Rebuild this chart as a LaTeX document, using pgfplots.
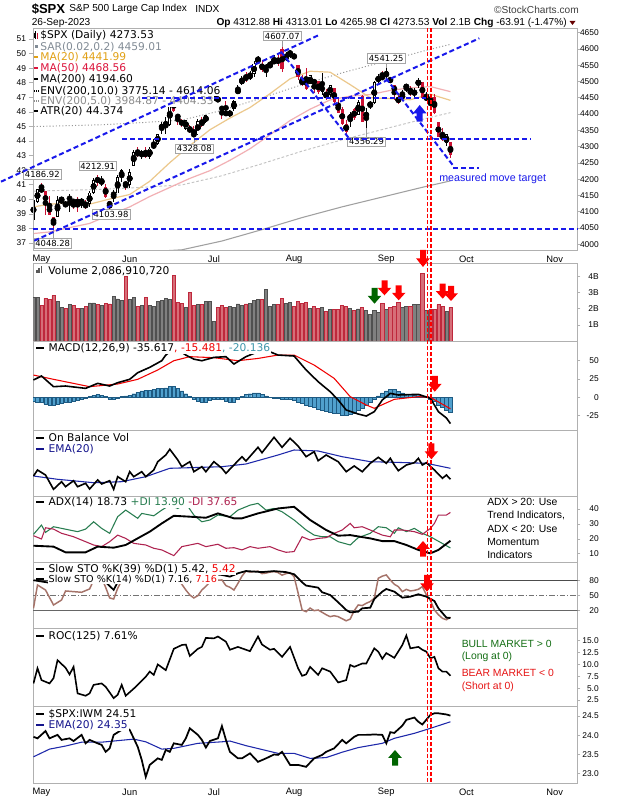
\documentclass[border=0pt]{standalone}
\usepackage{pgfplots}
\pgfplotsset{compat=1.18}
\usepackage{pgfplotstable}
\usepackage{fontspec}
\setmainfont{Liberation Sans}
\newfontfamily\lgf{DejaVu Sans}
\newcommand\LG{\lgf\fontsize{8}{9}\selectfont}
\newcommand\LGs{\lgf\fontsize{7.2}{8}\selectfont}
\newcommand\TK{\fontsize{6.3}{7}\selectfont}
\newcommand\MK{\fontsize{7}{8}\selectfont}
\newcommand\PL{\lgf\fontsize{6.3}{7}\selectfont}
\newcommand\NT{\fontsize{7.8}{9}\selectfont}

\definecolor{bord}{RGB}{176,176,176}
\definecolor{cred}{RGB}{204,17,51}
\definecolor{ma20c}{RGB}{236,200,140}
\definecolor{ma50c}{RGB}{242,176,180}
\definecolor{ma200c}{RGB}{160,160,160}
\definecolor{envc}{RGB}{150,150,150}
\definecolor{env5c}{RGB}{195,195,195}
\definecolor{annb}{RGB}{25,25,235}
\definecolor{volg}{RGB}{128,128,128}
\definecolor{volge}{RGB}{80,80,80}
\definecolor{volr}{RGB}{214,110,120}
\definecolor{volre}{RGB}{190,40,60}
\definecolor{histc}{RGB}{80,160,205}
\definecolor{histe}{RGB}{30,90,130}
\definecolor{sigc}{RGB}{240,0,0}
\definecolor{navyc}{RGB}{20,20,140}
\definecolor{pdi}{RGB}{40,125,80}
\definecolor{mdi}{RGB}{175,35,80}
\definecolor{stob}{RGB}{165,115,105}
\definecolor{bullg}{RGB}{20,110,20}
\definecolor{beard}{RGB}{230,20,20}
\definecolor{emac}{RGB}{30,40,170}
\definecolor{tealc}{RGB}{60,150,170}
\definecolor{ma20t}{RGB}{225,160,20}
\definecolor{ma50t}{RGB}{220,20,60}
\definecolor{sarg}{RGB}{130,140,150}
\definecolor{arrg}{RGB}{0,100,0}

\pgfplotsset{
  pan/.style={
    scale only axis, width=408.4pt, anchor=south west,
    xmin=-2.12, xmax=133.7,
    axis line style={draw=bord, line width=0.6pt},
    xtick=\empty,
    ytick pos=right, yticklabel pos=right,
    tick align=outside, major tick length=2.2pt,
    ytick style={draw=bord, line width=0.5pt},
    xtick style={draw=none},
    yticklabel style={font=\TK, anchor=east, inner sep=0pt, xshift=13.9pt},
    xticklabel style={font=\MK, anchor=center, inner sep=0pt, yshift=-5pt},
    clip=true,
  },
  cdl/.style 2 args={only marks, mark=none, error bars/.cd, y dir=both, y explicit, error mark=none,
    error bar style={draw=#1, line width=#2}},
}

\pgfplotstableread{
j o h l c r k v
-2 4075.29 4138.02 4075.29 4135.35 0 0 2.72
-1 4129.63 4170.06 4127.18 4169.48 0 0 2.72
0 4166.79 4186.92 4164.12 4167.87 1 2 2.20
1 4164.10 4164.10 4089.72 4119.58 1 3 2.65
2 4122.25 4148.30 4088.86 4090.75 1 3 2.57
3 4082.61 4082.61 4048.28 4061.22 1 3 2.82
4 4084.73 4147.02 4084.73 4136.25 0 0 2.45
5 4136.98 4142.30 4123.81 4138.12 0 0 2.10
6 4124.25 4130.35 4116.65 4119.17 1 3 2.04
7 4143.74 4154.28 4098.92 4137.64 0 1 2.26
8 4132.24 4132.80 4109.29 4130.62 1 3 2.20
9 4138.54 4143.74 4099.12 4124.08 1 3 2.04
10 4126.65 4141.25 4110.27 4136.28 0 0 2.00
11 4127.95 4135.54 4109.86 4109.90 1 3 2.16
12 4122.85 4164.67 4113.62 4158.77 0 0 2.37
13 4157.68 4202.20 4153.50 4198.05 0 0 2.37
14 4204.15 4212.91 4180.20 4191.98 1 3 2.26
15 4190.78 4209.22 4179.68 4192.63 0 0 2.20
16 4176.80 4185.68 4142.54 4145.58 1 3 2.35
17 4132.96 4132.96 4103.98 4115.24 1 3 2.30
18 4155.71 4165.74 4129.73 4151.28 0 1 2.78
19 4156.16 4212.87 4156.16 4205.45 0 0 2.61
20 4226.71 4231.10 4192.18 4205.52 0 1 2.51
21 4190.74 4195.44 4166.15 4179.83 1 3 4.00
22 4183.03 4232.43 4171.64 4221.02 0 0 2.57
23 4241.01 4290.67 4241.01 4282.37 0 0 2.72
24 4282.99 4299.28 4266.82 4273.79 1 3 2.16
25 4271.34 4288.33 4263.09 4283.85 0 0 2.20
26 4285.47 4299.19 4263.96 4267.52 1 3 2.72
27 4268.69 4298.01 4261.07 4293.93 0 0 2.20
28 4304.88 4322.62 4291.70 4298.86 0 1 2.14
29 4308.32 4340.13 4304.37 4338.93 0 0 2.45
30 4352.61 4375.37 4337.85 4369.01 0 0 2.51
31 4366.29 4391.82 4337.85 4372.59 0 0 2.65
32 4365.33 4439.20 4362.60 4425.84 0 0 2.57
33 4440.95 4448.47 4407.44 4409.59 1 3 4.10
34 4396.11 4400.15 4367.19 4388.71 1 3 2.41
35 4380.01 4386.22 4360.14 4365.69 1 3 2.35
36 4355.40 4382.25 4351.82 4381.89 0 0 2.10
37 4354.17 4366.55 4341.34 4348.33 1 3 3.03
38 4344.84 4362.06 4328.08 4328.82 1 3 2.20
39 4337.36 4384.42 4335.00 4378.41 0 0 2.26
40 4367.48 4390.35 4360.22 4376.86 1 2 2.26
41 4374.94 4398.39 4371.97 4396.44 0 0 2.45
42 4422.44 4458.48 4422.44 4450.38 0 0 2.45
43 4450.48 4456.46 4442.29 4455.59 0 0 1.21
44 4442.04 4454.06 4436.61 4446.82 1 2 2.10
45 4422.62 4422.62 4385.05 4411.59 1 3 2.20
46 4404.54 4440.39 4397.40 4398.95 1 3 2.10
47 4394.23 4412.60 4389.92 4409.53 0 0 2.16
48 4415.55 4443.64 4408.46 4439.26 0 0 2.10
49 4467.69 4488.34 4463.23 4472.16 0 0 2.30
50 4491.50 4517.38 4489.36 4510.04 0 0 2.20
51 4514.61 4527.76 4499.56 4505.42 1 3 2.30
52 4508.86 4532.85 4504.90 4522.79 0 0 2.35
53 4521.78 4562.30 4514.59 4554.98 0 0 2.51
54 4563.87 4578.43 4557.48 4565.72 0 0 2.57
55 4554.38 4564.74 4527.56 4534.87 1 3 2.57
56 4550.16 4555.00 4514.02 4536.34 0 1 3.19
57 4543.39 4563.41 4541.29 4554.64 0 0 2.16
58 4555.19 4580.62 4552.42 4567.46 0 0 2.26
59 4558.96 4582.47 4547.58 4566.75 1 2 2.26
60 4598.26 4607.07 4528.56 4537.41 1 3 2.65
61 4565.75 4590.16 4564.01 4582.23 0 0 2.33
62 4584.82 4594.22 4573.14 4588.96 0 0 2.39
63 4578.83 4584.62 4567.53 4576.73 1 3 2.16
64 4550.93 4550.93 4505.75 4513.39 1 3 2.45
65 4494.27 4519.49 4485.54 4501.89 1 2 2.33
66 4513.96 4540.34 4474.55 4478.03 1 3 2.39
67 4491.58 4519.84 4491.15 4518.44 0 0 2.04
68 4498.03 4503.31 4464.39 4499.38 1 2 2.16
69 4501.57 4502.44 4461.33 4467.71 1 3 2.04
70 4487.16 4527.37 4457.92 4468.83 0 1 2.08
71 4450.69 4476.23 4443.98 4464.05 1 2 1.83
72 4458.13 4490.33 4453.44 4489.72 0 0 1.95
73 4478.87 4478.87 4432.19 4437.86 1 3 1.95
74 4433.79 4449.95 4403.55 4404.33 1 3 1.95
75 4416.32 4421.17 4364.83 4370.36 1 3 2.20
76 4344.88 4381.82 4335.31 4369.71 1 2 2.16
77 4380.28 4407.55 4360.30 4399.77 0 0 2.04
78 4415.33 4418.59 4382.77 4387.55 1 3 1.89
79 4396.44 4443.18 4396.44 4436.01 0 0 1.99
80 4455.16 4458.30 4375.55 4376.31 1 3 2.10
81 4389.38 4418.46 4356.29 4405.71 0 0 1.89
82 4426.03 4439.56 4414.98 4433.31 0 0 1.67
83 4432.75 4500.14 4431.68 4497.63 0 0 1.89
84 4500.34 4521.65 4493.59 4514.87 0 0 1.79
85 4517.01 4532.26 4507.39 4507.66 1 3 2.35
86 4530.60 4541.25 4501.35 4515.77 0 1 1.95
87 4510.06 4514.29 4496.01 4496.83 1 3 2.10
88 4490.35 4490.35 4442.38 4465.48 1 3 2.16
89 4434.55 4457.81 4430.46 4451.14 1 2 2.39
90 4451.30 4473.53 4448.38 4457.49 0 0 2.08
91 4480.98 4490.77 4467.89 4487.46 0 0 2.14
92 4473.27 4487.11 4456.83 4461.90 1 3 2.14
93 4462.65 4479.39 4453.52 4467.44 0 0 2.26
94 4487.78 4511.99 4478.69 4505.10 0 0 2.26
95 4497.98 4497.98 4447.21 4450.32 1 3 4.20
96 4445.13 4466.36 4442.11 4453.53 0 0 1.89
97 4445.41 4449.85 4416.61 4443.95 1 3 1.99
98 4452.81 4461.03 4401.38 4402.20 1 3 1.95
99 4374.36 4375.70 4329.17 4330.00 1 3 2.26
100 4341.74 4357.40 4316.49 4320.06 1 3 2.14
101 4310.62 4338.51 4302.70 4337.44 0 0 1.83
102 4312.88 4313.01 4265.98 4273.53 1 3 2.09
}\tD

\pgfplotstableread{
j a b
-2 4114.9 4033.0
2 4123.0 4037.8
7 4127.4 4051.1
12 4123.2 4064.0
17 4138.9 4090.0
22 4152.9 4114.8
27 4193.4 4146.7
32 4250.7 4174.5
37 4303.2 4202.3
42 4351.6 4226.0
47 4387.6 4257.9
52 4419.9 4293.3
57 4462.5 4336.3
62 4508.1 4380.0
67 4531.4 4414.9
72 4528.4 4443.4
77 4490.2 4455.0
82 4450.0 4459.7
87 4447.2 4472.5
92 4443.9 4480.3
97 4460.8 4484.3
102 4442.0 4468.6
}\tMA

\pgfplotstableread{
j m e5 e10
-2 3965 4163.3 4361.5
5 3967 4165.4 4363.7
15 3970 4168.5 4367.0
25 3976 4174.8 4373.6
35 3983 4182.2 4381.3
45 4010 4210.5 4411.0
55 4045 4247.3 4449.5
65 4082 4286.1 4490.2
75 4115 4320.8 4526.5
85 4145 4352.3 4559.5
95 4175 4383.8 4592.5
102 4194.6 4404.3 4614.1
}\tML

\pgfplotstableread{
j h
-2 -5
-1 -6
0 -7
1 -9
2 -10
3 -10
4 -9
5 -8
6 -7
7 -6
8 -5
9 -4
10 -3
11 -1
12 1
13 3
14 4
15 3
16 1
17 -2
18 -3
19 -1
20 1
21 2
22 3
23 5
24 7
25 9
26 10
27 10
28 11
29 12
30 12
31 13
32 15
33 15
34 12
35 9
36 5
37 1
38 -3
39 -5
40 -6
41 -6
42 -4
43 -2
44 -2
45 -3
46 -5
47 -6
48 -6
49 -3
50 1
51 4
52 5
53 6
54 6
55 4
56 2
57 0
58 -1
59 -1
60 -2
61 -3
62 -3
63 -4
64 -6
65 -8
66 -10
67 -12
68 -14
69 -16
70 -17
71 -19
72 -20
73 -21
74 -22
75 -24
76 -24
77 -23
78 -21
79 -18
80 -15
81 -11
82 -7
83 -3
84 2
85 6
86 9
87 11
88 11
89 8
90 6
91 4
92 4
93 3
94 4
95 2
96 1
97 -2
98 -5
99 -10
100 -14
101 -17
102 -20.1
}\tH

\newcommand\downarr[4]{%
  \fill[#4] ({#1-3},{800-#2}) -- ({#1+3},{800-#2}) -- ({#1+3},{800-(#2+0.5*(#3-#2))}) -- ({#1+6.8},{800-(#2+0.5*(#3-#2))}) -- ({#1},{800-#3}) -- ({#1-6.8},{800-(#2+0.5*(#3-#2))}) -- ({#1-3},{800-(#2+0.5*(#3-#2))}) -- cycle;}
\newcommand\uparr[4]{%
  \fill[#4] ({#1-3},{800-#3}) -- ({#1+3},{800-#3}) -- ({#1+3},{800-(#3-0.5*(#3-#2))}) -- ({#1+6.8},{800-(#3-0.5*(#3-#2))}) -- ({#1},{800-#2}) -- ({#1-6.8},{800-(#3-0.5*(#3-#2))}) -- ({#1-3},{800-(#3-0.5*(#3-#2))}) -- cycle;}

\begin{document}
\begin{tikzpicture}
\begin{scope}[x=0.75pt,y=0.75pt]
\path[fill=white] (0,0) rectangle (620,800);
\end{scope}

% ---------------- MAIN PRICE PANEL
\begin{axis}[pan, at={(24pt,412.5pt)}, height=166.3pt, ymin=3982.5, ymax=4663.4,
  ytick={4000,4050,...,4650},
  yticklabels={4000,4050,4100,4150,4200,4250,4300,4350,4400,4450,4500,4550,4600,4650},
  xtick={0,22,43,63,86,106,128}, xticklabels={May,Jun,Jul,Aug,Sep,Oct,Nov}]
\addplot[ma200c, line width=0.8pt] table[x=j,y=m]{\tML};
\addplot[env5c, line width=0.7pt, dash pattern=on 2pt off 1.5pt] table[x=j,y=e5]{\tML};
\addplot[envc, line width=0.7pt, dash pattern=on 0.8pt off 1.6pt] table[x=j,y=e10]{\tML};
\addplot[ma50c, line width=0.9pt] table[x=j,y=b]{\tMA};
\addplot[ma20c, line width=0.9pt] table[x=j,y=a]{\tMA};
% wicks
\addplot[cdl={black}{0.7pt}] table[x=j, y expr={ifthenelse(\thisrow{r}==0,(\thisrow{h}+\thisrow{l})/2,-1000)}, y error expr={(\thisrow{h}-\thisrow{l})/2}]{\tD};
\addplot[cdl={cred}{0.7pt}] table[x=j, y expr={ifthenelse(\thisrow{r}==1,(\thisrow{h}+\thisrow{l})/2,-1000)}, y error expr={(\thisrow{h}-\thisrow{l})/2}]{\tD};
% bodies
\addplot[cdl={black}{2.4pt}] table[x=j, y expr={ifthenelse(\thisrow{r}==0,(\thisrow{o}+\thisrow{c})/2,-1000)}, y error expr={max(abs(\thisrow{o}-\thisrow{c})/2,1.3)}]{\tD};
\addplot[cdl={cred}{2.4pt}] table[x=j, y expr={ifthenelse(\thisrow{r}==1,(\thisrow{o}+\thisrow{c})/2,-1000)}, y error expr={max(abs(\thisrow{o}-\thisrow{c})/2,1.3)}]{\tD};
% hollow interiors
\addplot[cdl={white}{1.0pt}] table[x=j, y expr={ifthenelse(\thisrow{k}==0,(\thisrow{o}+\thisrow{c})/2,-1000)}, y error expr={max(abs(\thisrow{o}-\thisrow{c})/2-2.8,0)}]{\tD};
\addplot[cdl={white}{1.0pt}] table[x=j, y expr={ifthenelse(\thisrow{k}==2,(\thisrow{o}+\thisrow{c})/2,-1000)}, y error expr={max(abs(\thisrow{o}-\thisrow{c})/2-2.8,0)}]{\tD};
\end{axis}
\begin{axis}[scale only axis, width=408.4pt, height=166.3pt, at={(24pt,412.5pt)}, anchor=south west,
  xmin=-2.12, xmax=133.7, ymin=36.52, ymax=51.74, axis x line=none, axis y line*=left,
  axis line style={draw=bord, line width=0.6pt}, tick align=outside, major tick length=3pt,
  ytick style={draw=bord, line width=0.5pt},
  ytick={37,38,...,51}, yticklabels={37,38,39,40,41,42,43,44,45,46,47,48,49,50,51},
  yticklabel style={font=\TK, anchor=east, inner sep=0pt, xshift=-2pt}]
\addplot[draw=none] coordinates {(0,40)};
\end{axis}

% ---------------- VOLUME
\begin{axis}[pan, at={(24pt,344.25pt)}, height=58.3pt, ymin=0, ymax=4.83,
  ytick={1,2,3,4}, yticklabels={1B,2B,3B,4B}]
\addplot[ybar, bar width=0.78, bar shift=0pt, fill=volg, draw=volge, line width=0.5pt] table[x=j,y expr={ifthenelse(\thisrow{r}==0,\thisrow{v},-1)}]{\tD};
\addplot[ybar, bar width=0.78, bar shift=0pt, fill=volr, draw=volre, line width=0.5pt] table[x=j,y expr={ifthenelse(\thisrow{r}==1,\thisrow{v},-1)}]{\tD};
\end{axis}

% ---------------- MACD
\begin{axis}[pan, at={(24pt,277.5pt)}, height=66.75pt, ymin=-44.3, ymax=76.7,
  ytick={-25,0,25,50}, yticklabels={-25,0,25,50}]
\addplot[ybar, bar width=0.88, bar shift=0pt, fill=histc, draw=histe, line width=0.35pt] table[x=j,y=h]{\tH};
\addplot[sigc, line width=0.8pt] table[x=j,y=v]{
j v
-2 30.4
3 24.6
12 14.6
19 18.2
24 24.6
29 37.3
33 49.9
37 55.4
43 54
49 49.9
54 53
59 57.6
63 57.6
68 44.0
73 25.9
77 1.0
81 -10.3
83 -14.8
88 -2.6
94 1.0
97 0.1
102 -15.5
};
\addplot[black, line width=1.2pt] table[x=j,y=v]{
j v
-2 23.7
0 29.1
3 14.6
6 15.5
11 12.3
14 19.1
17 15.5
19 20.0
22 24.6
24 33.6
27 40.9
30 49.9
31 57.6
33 66
34 65
36 57.6
38 52
40 49.9
43 54.4
46 55.4
48 45.4
51 55.4
53 59.9
55 64
57 62
59 57.6
63 56.3
66 37.3
69 21.4
72 7.8
74 -3.5
76 -17.1
79 -22.6
81 -25.3
83 -19.4
85 -3.5
87 5.5
89 3.3
94 4.2
97 -1.3
99 -19.4
101 -28
102 -35.6
};
\end{axis}

% ---------------- OBV
\begin{axis}[pan, at={(24pt,228pt)}, height=49.5pt, ymin=0, ymax=66, ytick=\empty]
\addplot[emac, line width=0.8pt] table[x=j,y=v]{
j v
-2 20
4 16.7
13 13.3
20 14.3
26 19.3
32 27.7
37 28.3
45 29.3
51 32.0
59 41.0
63 46.0
69 45.0
75 39.3
82 34.3
88 33.7
96 32.7
102 27.7
};
\addplot[black, line width=1.2pt] table[x=j,y=v]{
j v
-2 20.0
-1 26.0
1 21.0
3 6.7
5 14.3
6 9.3
8 15.3
9 9.3
11 12.7
12 7.0
14 16.0
15 12.0
17 15.3
18 6.7
19 19.3
21 14.3
22 24.3
23 19.3
25 24.3
26 19.3
28 26.0
29 34.3
31 41.0
32 46.7
34 36.0
35 29.3
37 34.3
38 24.3
40 29.3
41 24.3
43 34.3
45 27.7
46 22.7
48 31.0
50 39.3
51 35.0
54 48.7
55 43.3
58 58.7
60 48.7
62 57.7
64 50.0
66 39.3
68 44.3
69 35.3
71 41.0
74 34.3
76 24.3
78 30.0
80 24.3
82 32.7
84 38.7
86 32.7
87 37.7
88 31.0
89 25.3
91 31.0
93 33.3
94 37.7
95 31.0
96 33.3
98 26.0
100 17.7
101 21.0
102 16.7
};
\end{axis}

% ---------------- ADX
\begin{axis}[pan, at={(24pt,177.975pt)}, height=50pt, ymin=4.07, ymax=48.6,
  ytick={10,20,30,40}, yticklabels={10,20,30,40}]
\addplot[pdi, line width=0.8pt] table[x=j,y=v]{
j v
-2 23.0
0 29.2
1 24.3
3 28.1
5 27.0
7 25.9
9 24.8
11 26.5
13 31.4
15 27.0
17 23.7
18 29.2
19 34.8
21 39.2
24 33.7
25 37.0
28 35.4
30 39.2
32 42.5
34 40.3
36 43.7
38 35.9
40 31.4
42 32.6
44 35.9
47 34.8
49 39.2
52 42.5
54 43.7
56 39.2
58 40.3
60 38.1
63 32.6
66 25.9
68 22.5
70 21.4
72 21.4
74 18.1
77 15.9
79 20.8
82 23.7
84 28.1
86 27.4
88 23.7
89 27.4
91 24.8
93 27.0
95 23.7
97 21.4
100 16.9
102 13.9
};
\addplot[mdi, line width=0.8pt] table[x=j,y=v]{
j v
-2 22.1
0 19.9
1 27.4
3 26.5
5 23.7
8 21.4
10 19.2
13 15.9
15 14.8
17 18.1
19 22.5
21 20.3
23 17.0
26 15.9
28 13.7
30 12.6
33 8.8
35 14.8
37 15.9
39 17.0
41 14.8
44 16.4
46 13.7
48 14.1
50 12.6
52 14.8
54 13.7
57 14.8
59 12.6
61 11.0
63 11.5
65 21.4
67 19.2
69 20.3
71 20.8
73 23.7
75 25.9
77 30.3
78 27.4
80 28.1
82 25.9
85 22.5
87 21.4
88 25.9
90 25.9
93 24.8
95 23.0
97 27.0
98 30.3
99 35.9
101 35.9
102 37.65
};
\addplot[black, line width=1.4pt] table[x=j,y=v]{
j v
-2 15.4
3 14.8
6 11.0
11 11.0
14 14.8
18 14.1
21 15.9
27 24.8
30 30.3
33 35.4
37 34.8
41 34.1
44 37.0
48 33.7
50 33.7
54 37.0
59 40.3
63 41.4
67 32.6
71 25.9
74 22.1
77 22.5
82 20.3
85 18.5
88 18.5
91 15.9
94 12.6
97 10.3
99 12.6
102 18.73
};
\end{axis}

% ---------------- STO
\begin{axis}[pan, at={(24pt,129pt)}, height=49pt, ymin=-14.2, ymax=114.6,
  ytick={20,50,80}, yticklabels={20,50,80}]
\addplot[black!70, line width=0.7pt] coordinates {(-3,80) (134,80)};
\addplot[black!55, line width=0.6pt, dash pattern=on 4pt off 1.5pt on 0.8pt off 1.5pt] coordinates {(-3,50) (134,50)};
\addplot[black!60, line width=0.7pt] coordinates {(-3,20) (134,20)};
\addplot[stob, line width=1.1pt] table[x=j,y=v]{
j v
-2 24.6
-1 70.6
1 60.7
3 31.2
5 41.0
6 58.8
8 57.5
10 56.2
12 62.8
13 80
14 88
15 84
16 66
17 45
18 43
19 64
20 80
21 76
22 85
23 92
24 88
25 90
26 84
27 92
28 94
29 96
30 97
31 95
32 98
33 88
34 80
35 72
36 60.7
37 50.9
38 45
39 49.6
40 60.7
41 68
42 76
43 85
44 80
45 80.5
46 69.4
47 66
48 60.7
49 73.8
50 88
51 98.1
52 96
53 97
54 98
55 93
56 94
57 96
58 97
59 95
60 90
61 93
62 95
63 86.9
64 55
65 21.3
66 18.0
67 25
68 20
69 21.3
70 16.7
71 12
72 8.2
73 10
74 8.2
75 4
76 0
77 3.5
78 20
79 31.2
80 30
81 34.5
82 38
83 44.4
84 83.8
85 88
86 90.4
87 80.5
88 72
89 67.4
90 57.5
91 62
92 58.8
93 60
94 62.1
95 67.4
96 51.0
97 40
98 21.3
99 12
100 4.9
101 2
102 7.16
};
\addplot[black, line width=1.3pt] table[x=j,y=v]{
j v
-2 80
2 75
5 82
10 80
14 92
16 76
18 61
19 76
21 86
25 92
30 96
35 92
40 85
43 92
45 90.4
47 87.1
49 93.7
51 98.1
55 96
58 98
61 96
63 91.7
65 75.9
66 69.4
69 65.4
70 56.2
72 50.9
74 36.5
76 21.3
77 16.7
79 18.0
80 24.6
82 25.9
83 43.0
85 57.5
86 62.8
88 57.5
90 45.6
92 47.6
94 52.3
96 47.6
98 39.0
99 24.6
101 6.2
102 5.42
};
\end{axis}

% ---------------- ROC
\begin{axis}[pan, at={(24pt,70.5pt)}, height=58.5pt, ymin=1.24, ymax=17.69,
  ytick={2.5,5,7.5,10,12.5,15}, yticklabels={2.5,5.0,7.5,10.0,12.5,15.0}]
\addplot[black, line width=1.2pt] table[x=j,y=v]{
j v
-2 6.0
-1 9.2
0 6.7
2 6.0
3 7.1
4 10.9
6 9.3
7 7.9
8 9.5
9 3.9
11 3.4
12 3.9
13 5.7
15 6.0
16 5.3
18 2.9
19 3.6
20 5.7
21 3.4
23 4.9
24 5.7
26 7.4
27 8.5
28 7.8
29 10.0
31 8.8
33 13.3
35 14.1
36 14.2
37 11.8
39 13.3
40 13.7
41 15.6
43 15.5
44 15.9
46 14.8
47 13.1
49 13.7
50 13.4
52 12.8
54 15.9
55 14.2
57 13.1
58 13.3
60 11.6
62 13.7
64 9.2
65 7.6
66 7.9
67 9.5
69 7.8
70 9.2
72 8.5
74 6.2
76 6.7
77 9.9
78 9.5
80 10.2
81 10.2
83 13.4
84 12.7
85 11.2
86 12.4
88 11.4
90 14.1
91 16.1
92 13.4
94 13.7
95 13.1
96 12.7
97 11.3
98 11.6
99 9.2
100 8.5
101 8.5
102 7.61
};
\end{axis}

% ---------------- SPX:IWM
\begin{axis}[pan, at={(24pt,12.75pt)}, height=57.75pt, ymin=22.76, ymax=24.76,
  ytick={23,23.5,24,24.5}, yticklabels={23.0,23.5,24.0,24.5},
  xtick={0,22,43,63,86,106,128}, xticklabels={May,Jun,Jul,Aug,Sep,Oct,Nov}]
\addplot[emac, line width=0.8pt] table[x=j,y=v]{
j v
-2 23.44
2 23.64
6 23.72
10 23.82
15 23.82
23 23.90
26 23.83
30 23.64
33 23.66
39 23.79
45 23.83
47 23.85
51 23.73
59 23.53
63 23.53
67 23.40
71 23.42
75 23.56
79 23.68
85 23.79
88 23.92
93 24.05
97 24.18
102 24.35
};
\addplot[black, line width=1.3pt] table[x=j,y=v]{
j v
-2 23.96
-1 23.92
1 24.11
2 23.92
4 24.01
5 23.88
7 23.92
8 23.85
10 24.01
11 23.79
12 23.88
14 23.79
15 23.75
16 23.57
17 23.66
18 24.01
20 24.14
21 24.20
22 24.14
24 23.70
25 23.36
26 22.92
27 23.23
29 23.40
30 23.36
31 23.62
32 23.57
33 23.79
35 23.75
36 23.92
37 24.18
39 24.01
40 23.88
41 23.68
42 23.85
44 23.92
45 24.24
46 23.88
47 23.57
49 23.40
50 23.40
52 23.53
54 23.31
56 23.40
58 23.50
59 23.49
60 23.57
61 23.40
62 23.23
64 23.23
66 23.18
68 23.40
70 23.49
71 23.57
73 23.66
75 23.88
76 23.79
78 23.96
79 24.01
81 24.01
83 24.02
85 24.01
86 23.79
87 24.08
88 24.06
90 24.25
91 24.40
93 24.46
94 24.35
95 24.28
97 24.53
98 24.57
99 24.57
101 24.54
102 24.51
};
\end{axis}

\begin{scope}[x=0.75pt,y=0.75pt]
% ---------------- HEADER
\node[anchor=west, inner sep=0pt, font=\bfseries\fontsize{9.8}{11}\selectfont] at (30.5,790.7) {\$SPX};
\node[anchor=west, inner sep=0pt, font=\fontsize{7.6}{9}\selectfont] at (68,790.7) {S\&P 500 Large Cap Index};
\node[anchor=west, inner sep=0pt, font=\fontsize{7.6}{9}\selectfont] at (194,790.7) {INDX};
\node[anchor=east, inner sep=0pt, font=\fontsize{7.6}{9}\selectfont, text=black!75] at (578,790) {©StockCharts.com};
\node[anchor=west, inner sep=0pt, font=\fontsize{7.6}{9}\selectfont] at (30.5,777.3) {26-Sep-2023};
\node[anchor=east, inner sep=0pt, font=\fontsize{7.6}{9}\selectfont] at (566,777.3) {\textbf{Op} 4312.88 \textbf{Hi} 4313.01 \textbf{Lo} 4265.98 \textbf{Cl} 4273.53 \textbf{Vol} 2.1B \textbf{Chg} -63.91 (-1.47\%)};
\fill[black!60!red] (568.5,779) -- (574.5,779) -- (571.5,775) -- cycle;

% ---------------- LEGENDS
\begin{scope}[every node/.style={anchor=west, inner sep=0.6pt, fill=white, font=\LG}]
\node at (38.3,764.3) {\$SPX (Daily) 4273.53};
\node[text=sarg] at (38.3,753.3) {SAR(0.02,0.2) 4459.01};
\node[text=ma20t] at (38.3,742.7) {MA(20) 4441.99};
\node[text=ma50t] at (38.3,731.7) {MA(50) 4468.56};
\node at (38.3,720.7) {MA(200) 4194.60};
\node at (38.3,709.3) {ENV(200,10.0) 3775.14 - 4614.06};
\node[text=black!45] at (38.3,699) {ENV(200,5.0) 3984.87 - 4404.33};
\node at (38.3,689) {ATR(20) 44.374};
\node at (46.3,529.3) {Volume 2,086,910,720};
\node at (46.6,452) {MACD(12,26,9) -35.617\textcolor{sigc}{, -15.481}\textcolor{tealc}{, -20.136}};
\node at (46.6,362.3) {On Balance Vol};
\node[text=navyc] at (46.6,350.7) {EMA(20)};
\node at (46.6,297.7) {ADX(14) 18.73 \textcolor{pdi}{+DI 13.90} \textcolor{mdi}{-DI 37.65}};
\node at (46.6,231) {Slow STO \%K(39) \%D(1) 5.42, \textcolor{sigc}{5.42}};
\node[font=\LGs] at (46.6,221) {Slow STO \%K(14) \%D(1) 7.16, \textcolor{sigc}{7.16}};
\node at (46.6,164.3) {ROC(125) 7.61\%};
\node at (46.6,85.7) {\$SPX:IWM 24.51};
\node[text=navyc] at (46.6,75) {EMA(20) 24.35};
\end{scope}
\draw[black, line width=0.6pt] (34.2,760.5) -- (34.2,768.5);
\fill[black] (33.4,762) rectangle (35,767);
\draw[cred, line width=0.6pt] (36.6,761) -- (36.6,767);
\fill[cred] (35.8,762.2) rectangle (37.4,765.8);
\fill[sarg] (34.3,752.3) rectangle (36.5,754.5);
\draw[ma20t, line width=1.6pt] (33,742.7) -- (37.4,742.7);
\draw[ma50t, line width=1.6pt] (33,731.7) -- (37.4,731.7);
\draw[black, line width=1.6pt] (33,720.7) -- (37.4,720.7);
\draw[black, line width=1.3pt, dash pattern=on 0.8pt off 0.8pt] (33,709.3) -- (37.6,709.3);
\draw[black!45, line width=1.3pt, dash pattern=on 0.8pt off 0.8pt] (33,699) -- (37.6,699);
\draw[black, line width=1.6pt] (33,689) -- (37.4,689);
\fill[black!65] (35,526.5) rectangle (36.6,530);
\fill[black!65] (37.4,526.5) rectangle (39,532);
\fill[black!65] (39.8,526.5) rectangle (41.4,533.5);
\foreach \yy in {452,362.3,297.7,231,221,164.3,85.7} {\draw[black, line width=1.6pt] (35,\yy) -- (42.7,\yy);}
\draw[navyc, line width=1.6pt] (35,350.7) -- (42.7,350.7);
\draw[navyc, line width=1.6pt] (35,75) -- (42.7,75);

% notes
\begin{scope}[every node/.style={anchor=west, inner sep=0pt, font=\NT}]
\node at (486,297.7) {ADX > 20: Use};
\node at (486,284.3) {Trend Indicators,};
\node at (486,271) {ADX < 20: Use};
\node at (486,257.7) {Momentum};
\node at (486,245) {Indicators};
\node[text=bullg] at (460.5,156) {BULL MARKET > 0};
\node[text=bullg] at (460.5,142.7) {(Long at 0)};
\node[text=beard] at (460.5,126.7) {BEAR MARKET < 0};
\node[text=beard] at (460.5,113.3) {(Short at 0)};
\node[text=annb, font=\fontsize{8}{9}\selectfont] at (438,621) {measured move target};
\end{scope}

% price labels
\begin{scope}[every node/.style={draw=black!35, fill=white, inner sep=1.1pt, font=\PL, line width=0.5pt}]
\draw[black!40, line width=0.5pt] (281.1,759) -- (281.1,753.4);
\node at (281.3,764) {4607.07};
\draw[black!40, line width=0.5pt] (385.4,736.7) -- (385.4,731.9);
\node at (385.2,741.7) {4541.25};
\draw[black!40, line width=0.5pt] (365.3,671.7) -- (365.3,663.3);
\node at (365.5,658.3) {4356.29};
\draw[black!40, line width=0.5pt] (192.9,662.5) -- (192.9,656.7);
\node at (193.3,651.3) {4328.08};
\node at (96.7,634) {4212.91};
\node at (41.3,625.7) {4186.92};
\node at (110,585.7) {4103.98};
\draw[black!40, line width=0.5pt] (52.5,571.4) -- (52.5,561.7);
\node at (51.7,556.7) {4048.28};
\end{scope}

% blue trend annotations
\begin{scope}[annb, line width=1.5pt, dash pattern=on 3.8pt off 2.2pt]
\draw (32,570.5) -- (576.5,570.5);
\draw (121,660.7) -- (530,660.7);
\draw (141,702.3) -- (425,702.3);
\draw (452,631.7) -- (478,631.7);
\draw (0,618.3) -- (318,765);
\draw (33.3,559.3) -- (478.3,761.7);
\draw (280,748.3) -- (348,661.7);
\draw (385,721.7) -- (453,633.3);
\end{scope}
\uparr{418.7}{105}{121.7}{annb}

% arrows
\downarr{373.5}{288}{303.7}{arrg}
\downarr{383.5}{280.3}{295.3}{red}
\downarr{397.7}{285.3}{300.3}{red}
\downarr{422}{250}{267}{red}
\downarr{441.7}{283.7}{298.7}{red}
\downarr{450}{286}{301}{red}
\downarr{433.8}{376}{391.7}{red}
\downarr{430.4}{443.3}{459.3}{red}
\uparr{422}{541}{556.7}{red}
\downarr{426}{575}{591.7}{red}
\uparr{394}{750}{765.7}{arrg}

% red vertical dashed lines
\draw[red, line width=0.9pt, dash pattern=on 3pt off 1.5pt] (426.3,771.7) -- (426.3,17);
\draw[red, line width=0.9pt, dash pattern=on 3pt off 1.5pt] (430,771.7) -- (430,17);
\end{scope}
\end{tikzpicture}
\end{document}
